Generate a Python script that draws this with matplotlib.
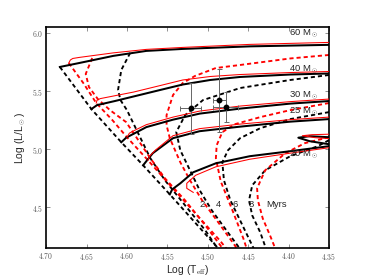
import matplotlib
matplotlib.use("Agg")
import matplotlib.pyplot as plt
from matplotlib.ticker import FuncFormatter

plt.rcParams['mathtext.fontset'] = 'cm'

# ---------------- data (log Teff, log L/Lsun) ----------------
# non-rotating tracks (black solid)
bt60_T = [4.683, 4.659, 4.617, 4.576, 4.531, 4.448, 4.350]
bt60_L = [5.707, 5.741, 5.802, 5.845, 5.862, 5.884, 5.897]
bt40_T = [4.644, 4.637, 4.615, 4.592, 4.559, 4.531, 4.497, 4.460, 4.398, 4.350]
bt40_L = [5.345, 5.379, 5.414, 5.453, 5.509, 5.556, 5.595, 5.621, 5.642, 5.651]
bt30_T = [4.607, 4.601, 4.576, 4.543, 4.510, 4.460, 4.398, 4.350]
bt30_L = [5.060, 5.099, 5.190, 5.254, 5.306, 5.349, 5.392, 5.414]
bt25_T = [4.580, 4.576, 4.568, 4.543, 4.510, 4.460, 4.398, 4.350, 4.330, 4.350, 4.374, 4.388, 4.374, 4.350, 4.330]
bt25_L = [4.862, 4.897, 4.966, 5.095, 5.155, 5.194, 5.237, 5.259, 5.207, 5.103, 5.112, 5.099, 5.069, 5.043, 5.017]
bt20_T = [4.547, 4.544, 4.534, 4.518, 4.490, 4.448, 4.398, 4.350]
bt20_L = [4.612, 4.655, 4.707, 4.802, 4.879, 4.940, 4.983, 5.026]

# rotating tracks (red solid)
rt60_T = [4.672, 4.670, 4.667, 4.659, 4.617, 4.576, 4.531, 4.448, 4.350]
rt60_L = [5.741, 5.767, 5.780, 5.789, 5.828, 5.858, 5.875, 5.901, 5.918]
rt40_T = [4.638, 4.637, 4.633, 4.592, 4.559, 4.531, 4.497, 4.460, 4.398, 4.350]
rt40_L = [5.397, 5.422, 5.435, 5.491, 5.547, 5.595, 5.625, 5.642, 5.659, 5.668]
rt30_T = [4.600, 4.597, 4.590, 4.576, 4.543, 4.510, 4.460, 4.398, 4.350]
rt30_L = [5.103, 5.138, 5.164, 5.211, 5.276, 5.328, 5.371, 5.409, 5.431]
rt25_T = [4.574, 4.572, 4.565, 4.543, 4.510, 4.460, 4.398, 4.350, 4.330, 4.350, 4.371, 4.383, 4.367, 4.350, 4.330]
rt25_L = [4.905, 4.940, 4.991, 5.116, 5.177, 5.216, 5.254, 5.276, 5.233, 5.129, 5.125, 5.116, 5.099, 5.091, 5.078]
rt20_T = [4.518, 4.526, 4.526, 4.515, 4.490, 4.448, 4.398, 4.350]
rt20_L = [4.629, 4.664, 4.707, 4.776, 4.849, 4.914, 4.966, 5.013]

# ZAMS and isochrones, non-rotating (black dashed)
zams_T = [4.683, 4.644, 4.607, 4.580, 4.547, 4.487, 4.472]
zams_L = [5.707, 5.345, 5.060, 4.862, 4.612, 4.147, 4.026]
bi2_T = [4.596, 4.607, 4.611, 4.608, 4.600, 4.588, 4.571, 4.553, 4.528, 4.503, 4.482]
bi2_L = [5.828, 5.681, 5.509, 5.422, 5.336, 5.164, 4.922, 4.733, 4.517, 4.302, 4.086]
bi4_T = [4.350, 4.398, 4.460, 4.506, 4.528, 4.539, 4.534, 4.522, 4.510, 4.495, 4.475, 4.454]
bi4_L = [5.638, 5.595, 5.526, 5.422, 5.293, 5.147, 4.991, 4.819, 4.647, 4.474, 4.284, 4.086]
bi6_T = [4.350, 4.398, 4.435, 4.460, 4.475, 4.482, 4.480, 4.472, 4.460, 4.442]
bi6_L = [5.319, 5.259, 5.181, 5.095, 4.991, 4.888, 4.733, 4.560, 4.388, 4.129]
bi8_T = [4.350, 4.364, 4.398, 4.429, 4.445, 4.449, 4.445, 4.435, 4.425]
bi8_L = [5.078, 5.026, 4.940, 4.819, 4.690, 4.560, 4.431, 4.284, 4.086]

# ZAMS and isochrones, rotating (red dashed)
rzams_T = [4.672, 4.654, 4.638, 4.618, 4.600, 4.574, 4.541, 4.485, 4.470]
rzams_L = [5.741, 5.569, 5.397, 5.250, 5.103, 4.905, 4.647, 4.215, 4.086]
ri2_T = [4.643, 4.651, 4.647, 4.636, 4.621, 4.601, 4.586, 4.571, 4.553, 4.528, 4.503, 4.475]
ri2_L = [5.784, 5.647, 5.534, 5.431, 5.336, 5.233, 5.078, 4.922, 4.750, 4.560, 4.345, 4.086]
ri4_T = [4.350, 4.398, 4.460, 4.490, 4.516, 4.531, 4.543, 4.551, 4.551, 4.547, 4.534, 4.522, 4.507, 4.487, 4.462]
ri4_L = [5.810, 5.780, 5.724, 5.698, 5.629, 5.569, 5.466, 5.293, 5.207, 5.095, 4.888, 4.733, 4.560, 4.371, 4.129]
ri6_T = [4.350, 4.398, 4.435, 4.466, 4.482, 4.489, 4.490, 4.484, 4.469, 4.456, 4.449]
ri6_L = [5.397, 5.336, 5.276, 5.216, 5.147, 5.034, 4.922, 4.724, 4.466, 4.233, 4.086]
ri8_T = [4.350, 4.380, 4.404, 4.429, 4.439, 4.438, 4.432, 4.423, 4.413]
ri8_L = [5.103, 5.052, 4.966, 4.819, 4.664, 4.560, 4.405, 4.259, 4.086]

# observed stars
star_T = [4.521, 4.486, 4.478]
star_L = [5.351, 5.422, 5.360]
star_Terr = [0.013, 0.008, 0.015]
star_Lerr = [0.22, 0.27, 0.13]

mass_labels = ["60 M$_\\odot$", "40 M$_\\odot$", "30 M$_\\odot$", "25 M$_\\odot$", "20 M$_\\odot$"]
mass_label_L = [5.991, 5.681, 5.457, 5.319, 4.948]
age_labels = ["2", "4", "6", "8", "Myrs"]
age_label_T = [4.507, 4.487, 4.466, 4.446, 4.415]
age_label_L = 4.526

xticks = [4.70, 4.65, 4.60, 4.55, 4.50, 4.45, 4.40, 4.35]
yticks = [4.5, 5.0, 5.5, 6.0]

# ---------------- figure ----------------
fig = plt.figure(figsize=(3.66, 2.76), dpi=100)
ax = fig.add_axes([0.126, 0.101, 0.773, 0.801])

dash = (0, (2.2, 1.6))
for T, L in [(zams_T, zams_L), (bi2_T, bi2_L), (bi4_T, bi4_L), (bi6_T, bi6_L), (bi8_T, bi8_L)]:
    ax.plot(T, L, color='black', lw=1.35, linestyle=dash, zorder=2)
for T, L in [(rzams_T, rzams_L), (ri2_T, ri2_L), (ri4_T, ri4_L), (ri6_T, ri6_L), (ri8_T, ri8_L)]:
    ax.plot(T, L, color='red', lw=1.35, linestyle=dash, zorder=2)
for T, L in [(bt60_T, bt60_L), (bt40_T, bt40_L), (bt30_T, bt30_L), (bt25_T, bt25_L), (bt20_T, bt20_L)]:
    ax.plot(T, L, color='black', lw=1.45, zorder=3, solid_joinstyle='round')
for T, L in [(rt60_T, rt60_L), (rt40_T, rt40_L), (rt30_T, rt30_L), (rt25_T, rt25_L), (rt20_T, rt20_L)]:
    ax.plot(T, L, color='red', lw=0.75, zorder=4, solid_joinstyle='round')

ax.errorbar(star_T, star_L, xerr=star_Terr, yerr=star_Lerr, fmt='o', color='black',
            ms=3.2, ecolor='0.4', elinewidth=0.7, capsize=1.8, capthick=0.7, zorder=5)

for lab, L in zip(mass_labels, mass_label_L):
    ax.text(4.399, L, lab, fontsize=6.8, color='0.15', va='center', ha='left',
            family='Liberation Sans', zorder=6)
for lab, T in zip(age_labels, age_label_T):
    ax.text(T, age_label_L, lab, fontsize=6.8, color='0.15', va='center', ha='center',
            family='Liberation Sans', zorder=6)

ax.set_xlim(4.70, 4.35)
ax.set_ylim(4.15, 6.05)
ax.set_xticks(xticks)
ax.set_yticks(yticks)
ax.xaxis.set_major_formatter(FuncFormatter(lambda v, p: r'$%.2f$' % v))
ax.yaxis.set_major_formatter(FuncFormatter(lambda v, p: r'$%.1f$' % v))
ax.tick_params(direction='in', top=True, right=True, length=3, width=0.6,
               labelsize=5.5, labelcolor='0.35', color='0.5', pad=2)
for s in ax.spines.values():
    s.set_linewidth(1.2)

ax.set_xlabel(r'Log (T$_{\rm eff}$)', fontsize=7.5, family='Liberation Sans', color='0.15', labelpad=1)
ax.set_ylabel(r'Log (L/L$_\odot$)', fontsize=7.5, family='Liberation Sans', color='0.15', labelpad=3)

fig.savefig('out.png', dpi=100)
